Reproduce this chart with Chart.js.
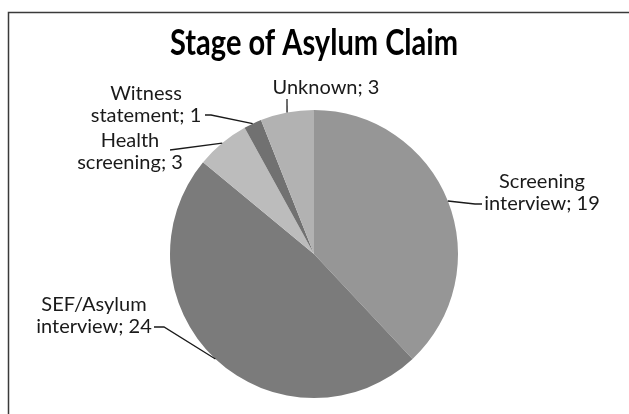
<!DOCTYPE html>
<html>
<head>
<meta charset="utf-8">
<script src="https://cdn.jsdelivr.net/npm/chart.js@4"></script>
<style>
html,body{margin:0;padding:0;background:#fff;}
#wrap{width:629px;height:414px;position:relative;}
</style>
</head>
<body>
<div id="wrap"><canvas id="c"></canvas></div>
<script>
// ---- data ----
const chartTitle = 'Stage of Asylum Claim';
const categoryLines = [['Screening','interview'],['SEF/Asylum','interview'],['Health','screening'],['Witness','statement'],['Unknown']];
const counts = [19, 24, 3, 1, 3];
const sliceColors = ['#969696', '#7b7b7b', '#bcbcbc', '#717171', '#b2b2b2'];

// label placement (style only): centre x, first line y, elbow points of leader
const labelPlacement = [
  {x: 542, y: 182, leader: [[482, 204], [475, 204]]},
  {x: 94,  y: 305, leader: [[154, 327], [164, 327]]},
  {x: 130, y: 141, leader: [[170, 150]]},
  {x: 146, y: 94,  leader: [[205, 115], [211, 115]]},
  {x: 326, y: 88,  leader: [[287, 99]]}
];

const labelFont = '20px Lato';
const lineH = 22;

const decor = {
  id: 'decor',
  beforeDraw(chart) {
    const ctx = chart.ctx;
    ctx.save();
    ctx.strokeStyle = '#3a3a3a';
    ctx.lineWidth = 1.5;
    ctx.beginPath();
    ctx.moveTo(8.5, 414);
    ctx.lineTo(8.5, 12.5);
    ctx.lineTo(629, 12.5);
    ctx.stroke();
    ctx.restore();
  },
  afterDraw(chart) {
    const ctx = chart.ctx;
    const meta = chart.getDatasetMeta(0);
    ctx.save();
    ctx.font = labelFont;
    ctx.fillStyle = '#1a1a1a';
    ctx.textAlign = 'center';
    ctx.textBaseline = 'middle';
    meta.data.forEach((arc, i) => {
      const p = arc.getProps(['x','y','startAngle','endAngle','outerRadius'], true);
      const mid = (p.startAngle + p.endAngle) / 2;
      const ex = p.x + Math.cos(mid) * p.outerRadius;
      const ey = p.y + Math.sin(mid) * p.outerRadius;
      const pl = labelPlacement[i];
      const lines = categoryLines[i].slice();
      lines[lines.length - 1] = lines[lines.length - 1] + '; ' + counts[i];
      lines.forEach((t, k) => ctx.fillText(t, pl.x, pl.y + k * lineH));
      ctx.strokeStyle = '#1a1a1a';
      ctx.lineWidth = 1.3;
      ctx.beginPath();
      pl.leader.forEach((pt, k) => k === 0 ? ctx.moveTo(pt[0], pt[1]) : ctx.lineTo(pt[0], pt[1]));
      ctx.lineTo(ex, ey);
      ctx.stroke();
    });
    ctx.restore();
  }
};

new Chart(document.getElementById('c'), {
  type: 'pie',
  data: {
    labels: categoryLines.map(l => l.join(' ')),
    datasets: [{
      data: counts,
      backgroundColor: sliceColors,
      borderWidth: 0
    }]
  },
  options: {
    responsive: true,
    maintainAspectRatio: false,
    animation: false,
    layout: { padding: { top: 10, bottom: 16, left: 170, right: 171 } },
    plugins: {
      legend: { display: false },
      tooltip: { enabled: false },
      title: {
        display: true,
        text: chartTitle,
        color: '#000',
        font: { family: 'Lato', size: 36, weight: 'bold', lineHeight: 1.2 },
        padding: { top: 11.4, bottom: 45.4 }
      }
    }
  },
  plugins: [decor]
});
</script>
</body>
</html>
